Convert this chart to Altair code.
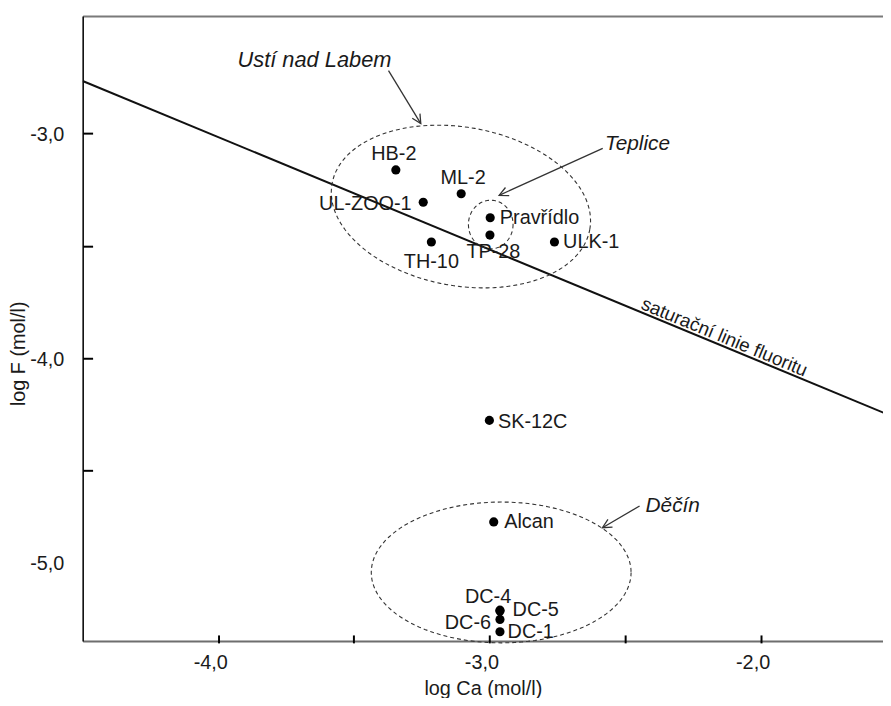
import math
import altair as alt
import pandas as pd

# ---------------- data ----------------
sample_names = ["HB-2", "ML-2", "UL-ZOO-1", "Pravřídlo", "TP-28", "TH-10", "ULK-1",
                "SK-12C", "Alcan", "DC-4", "DC-5", "DC-6", "DC-1"]
log_ca = [-3.345, -3.104, -3.244, -2.997, -2.998, -3.214, -2.760,
          -3.000, -2.984, -2.961, -2.961, -2.961, -2.961]
log_f = [-3.162, -3.268, -3.306, -3.375, -3.452, -3.483, -3.483,
         -4.277, -4.729, -5.122, -5.126, -5.163, -5.218]

sat_line_ca = [-4.5, -1.5]
sat_line_f = [-2.766, -4.266]
sat_label = "saturační linie fluoritu"
sat_label_ca = -2.146

x_ticks = [-4.0, -3.5, -3.0, -2.5, -2.0]
y_labels = [-5.0, -4.0, -3.0]
y_ticks = [-4.5, -4.0, -3.5, -3.0]
x_title = "log Ca (mol/l)"
y_title = "log F (mol/l)"

group_names = ["Ustí nad Labem", "Teplice", "Děčín"]
group_label_ca = [-3.645, -2.574, -2.424]
group_label_f = [-2.706, -3.073, -4.685]
group_center_ca = [-3.105, -2.995, -2.9565]
group_center_f = [-3.325, -3.405, -4.954]
arrow_from_ca = [-3.372, -2.582, -2.446]
arrow_from_f = [-2.720, -3.066, -4.658]
arrow_to_ca = [-3.253, -2.964, -2.583]
arrow_to_f = [-2.956, -3.275, -4.755]

# ---------------- layout / style ----------------
X_DOM = [-4.5, -1.5483]
Y_DOM = [-5.2587, -2.4773]
W, H = 807, 630
PXX = W / (X_DOM[1] - X_DOM[0])
PXY = H / (Y_DOM[1] - Y_DOM[0])
FONT = "Liberation Sans"
INK = "#1a1a1a"

# ellipse shapes (semi-axes in px, rotation deg clockwise)
ellipse_shape = [(132, 80, 10), (22.5, 24.5, 0), (131, 71, 0)]
group_font = [22, 21, 21]

# label placement: align, dx(px), dy(px, down positive) with alphabetic baseline
label_place = {
    "HB-2": ("center", -2, -10), "ML-2": ("center", 2, -10),
    "UL-ZOO-1": ("right", -11.7, 7.3), "Pravřídlo": ("left", 9.7, 6),
    "TP-28": ("center", 3.5, 22.7), "TH-10": ("center", 0, 25.7),
    "ULK-1": ("left", 8.7, 5.7), "SK-12C": ("left", 8.7, 7.3),
    "Alcan": ("left", 10.6, 6), "DC-4": ("center", -12, -7),
    "DC-5": ("left", 12.7, 5.1), "DC-6": ("right", -9, 10),
    "DC-1": ("left", 7.7, 6),
}

xs = alt.Scale(domain=X_DOM, nice=False, zero=False)
ys = alt.Scale(domain=Y_DOM, nice=False, zero=False)

lab_expr = ("datum.value % 1 == 0 ? (datum.value < 0 ? '-' : '') + "
            "replace(format(abs(datum.value), '.1f'), '.', ',') : ''")

# ---------------- tables ----------------
pts = pd.DataFrame({"name": sample_names, "ca": log_ca, "f": log_f})

lab_rows = []
for n, x, y in zip(sample_names, log_ca, log_f):
    al, dx, dy = label_place[n]
    lab_rows.append({"name": n, "ca": x + dx / PXX, "f": y - dy / PXY, "al": al})
labs = pd.DataFrame(lab_rows)

sat = pd.DataFrame({"ca": sat_line_ca, "f": sat_line_f})

ell_rows = []
for gi, (cx, cy) in enumerate(zip(group_center_ca, group_center_f)):
    a, b, rot = ellipse_shape[gi]
    r = math.radians(rot)
    for k in range(121):
        t = 2 * math.pi * k / 120
        u, v = a * math.cos(t), b * math.sin(t)
        sx = u * math.cos(r) - v * math.sin(r)
        sy = u * math.sin(r) + v * math.cos(r)
        ell_rows.append({"g": gi, "i": k, "ca": cx + sx / PXX, "f": cy - sy / PXY})
ell = pd.DataFrame(ell_rows)

arr_rows = []
for x1, y1, x2, y2 in zip(arrow_from_ca, arrow_from_f, arrow_to_ca, arrow_to_f):
    ang = math.degrees(math.atan2(-(y2 - y1) * PXY, (x2 - x1) * PXX)) % 360
    arr_rows.append({"x1": x1, "y1": y1, "x2": x2, "y2": y2, "ang": ang})
arr = pd.DataFrame(arr_rows)

grp = pd.DataFrame({"name": group_names, "ca": group_label_ca, "f": group_label_f,
                    "al": ["center", "left", "left"], "fs": group_font})

sat_ang = math.degrees(math.atan(0.5 * PXY / PXX))
sat_lab = pd.DataFrame({"t": [sat_label], "ca": [sat_label_ca],
                        "f": [-0.5 * sat_label_ca - 5.016]})

# ---------------- layers ----------------
main_x_axis = alt.Axis(orient="bottom", values=x_ticks, ticks=False, tickSize=0, grid=False,
                       domainColor="#6e6e6e", domainWidth=2, labelExpr=lab_expr,
                       labelFont=FONT, labelFontSize=20, labelColor=INK, labelPadding=12,
                       labelOffset=-8, title=x_title, titleFont=FONT, titleFontSize=20,
                       titleFontWeight="normal", titleColor=INK, titlePadding=6)
main_y_axis = alt.Axis(orient="left", values=y_labels, ticks=False, tickSize=0, grid=False,
                       domainColor="#000000", domainWidth=1.5, labelExpr=lab_expr,
                       labelFont=FONT, labelFontSize=20, labelColor=INK, labelPadding=19,
                       labelOffset={"condition": {"test": "datum.value == -5", "value": -19},
                                    "value": 1},
                       title=y_title, titleFont=FONT, titleFontSize=20,
                       titleFontWeight="normal", titleColor=INK, titleX=-65, titleY=340,
                       titleAngle=270, titleAlign="center", titleBaseline="middle")
tick_x_axis = alt.Axis(orient="bottom", values=x_ticks, offset=-6, domain=False, labels=False,
                       ticks=True, tickSize=8, tickWidth=2, tickColor="#000000", grid=False,
                       title=None)
tick_y_axis = alt.Axis(orient="left", values=y_ticks, offset=-10, domain=False, labels=False,
                       ticks=True, tickSize=10, tickWidth=2, tickColor="#000000", grid=False,
                       title=None)
top_axis = alt.Axis(orient="top", domain=True, domainColor="#7a7a7a", domainWidth=2,
                    labels=False, ticks=False, grid=False, title=None)

sat_layer = alt.Chart(sat).mark_line(color="#111111", strokeWidth=2, clip=True).encode(
    x=alt.X("ca:Q", scale=xs, axis=main_x_axis),
    y=alt.Y("f:Q", scale=ys, axis=main_y_axis),
)

ell_layer = alt.Chart(ell).mark_line(color="#333333", strokeWidth=1.1,
                                     strokeDash=[4, 3]).encode(
    x=alt.X("ca:Q", scale=xs, axis=top_axis),
    y=alt.Y("f:Q", scale=ys, axis=None),
    detail="g:N",
    order="i:Q",
)

pt_layer = alt.Chart(pts).mark_circle(size=85, color="#000000", opacity=1).encode(
    x=alt.X("ca:Q", scale=xs, axis=tick_x_axis),
    y=alt.Y("f:Q", scale=ys, axis=tick_y_axis),
)

arrow_layer = alt.Chart(arr).mark_rule(color="#333333", strokeWidth=1.3).encode(
    x=alt.X("x1:Q", scale=xs, axis=None), y=alt.Y("y1:Q", scale=ys, axis=None),
    x2="x2:Q", y2="y2:Q",
)
head_layer = alt.Chart(arr).mark_point(shape="M -1 -0.5 L 0 0 L -1 0.5", filled=False,
                                       size=330, color="#333333", strokeWidth=1.3,
                                       opacity=1).encode(
    x=alt.X("x2:Q", scale=xs, axis=None), y=alt.Y("y2:Q", scale=ys, axis=None),
    angle=alt.Angle("ang:Q", scale=None),
)

label_layers = []
for al in ["left", "center", "right"]:
    sub = labs[labs["al"] == al]
    label_layers.append(
        alt.Chart(sub).mark_text(align=al, baseline="alphabetic", font=FONT, fontSize=20,
                                 color=INK).encode(
            x=alt.X("ca:Q", scale=xs, axis=None), y=alt.Y("f:Q", scale=ys, axis=None),
            text="name:N")
    )

grp_layers = []
for al in ["left", "center"]:
    sub = grp[grp["al"] == al]
    grp_layers.append(
        alt.Chart(sub).mark_text(align=al, baseline="alphabetic", font=FONT,
                                 fontStyle="italic", color=INK).encode(
            x=alt.X("ca:Q", scale=xs, axis=None), y=alt.Y("f:Q", scale=ys, axis=None),
            text="name:N", size=alt.Size("fs:Q", scale=None))
    )

sat_text = alt.Chart(sat_lab).mark_text(align="center", baseline="alphabetic", font=FONT,
                                        fontSize=19, color=INK, angle=sat_ang, dy=-3).encode(
    x=alt.X("ca:Q", scale=xs, axis=None), y=alt.Y("f:Q", scale=ys, axis=None),
    text="t:N")

chart = alt.layer(sat_layer, ell_layer, pt_layer, arrow_layer, head_layer,
                  *label_layers, *grp_layers, sat_text).resolve_axis(
    x="independent", y="independent"
).properties(
    width=W, height=H,
    autosize=alt.AutoSizeParams(type="none"),
    padding={"left": 75.3, "top": 5.3, "right": 0, "bottom": 55},
).configure_view(stroke=None).configure(background="white")

chart.save("out.html", embed_options={"renderer": "svg", "actions": False})
